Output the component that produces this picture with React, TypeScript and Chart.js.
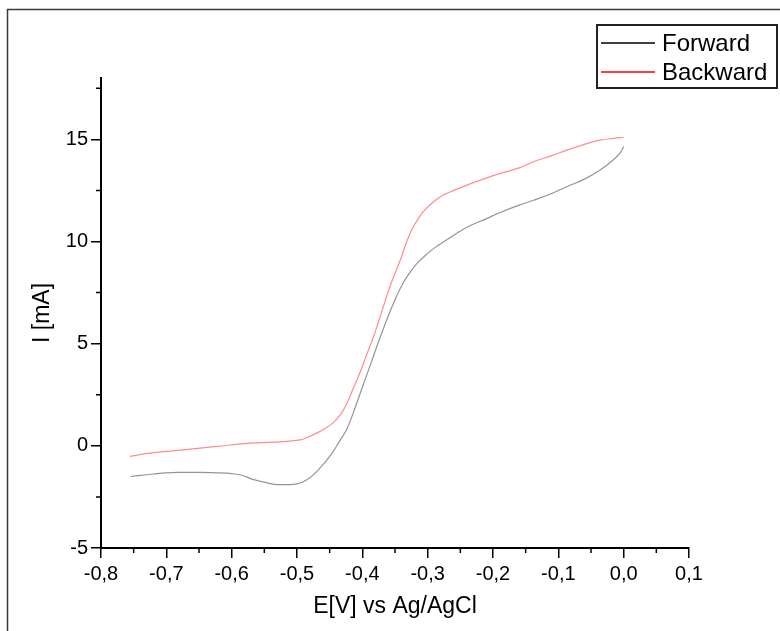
import React, { useEffect, useRef } from "react";
import { Chart, registerables } from "chart.js";

Chart.register(...registerables);

const forwardE = [-0.755, -0.74, -0.72, -0.70, -0.68, -0.65, -0.62, -0.60, -0.583, -0.569, -0.55, -0.537, -0.52, -0.506, -0.495, -0.485, -0.475, -0.465, -0.455, -0.445, -0.435, -0.424, -0.414, -0.404, -0.394, -0.384, -0.374, -0.364, -0.354, -0.342, -0.330, -0.317, -0.304, -0.291, -0.27, -0.24, -0.21, -0.189, -0.16, -0.138, -0.11, -0.087, -0.06, -0.036, -0.016, -0.005, 0.0];
const forwardI = [-1.50, -1.45, -1.38, -1.32, -1.30, -1.30, -1.32, -1.36, -1.45, -1.63, -1.78, -1.87, -1.90, -1.89, -1.82, -1.66, -1.42, -1.09, -0.72, -0.30, 0.22, 0.80, 1.60, 2.50, 3.40, 4.30, 5.20, 6.05, 6.85, 7.70, 8.35, 8.90, 9.30, 9.65, 10.10, 10.70, 11.12, 11.42, 11.78, 12.02, 12.35, 12.68, 13.05, 13.50, 13.99, 14.35, 14.65];

const backwardE = [0.0, -0.015, -0.036, -0.06, -0.087, -0.11, -0.138, -0.16, -0.189, -0.215, -0.24, -0.26, -0.276, -0.291, -0.307, -0.322, -0.332, -0.342, -0.353, -0.363, -0.373, -0.383, -0.394, -0.404, -0.414, -0.424, -0.433, -0.444, -0.457, -0.470, -0.483, -0.495, -0.521, -0.572, -0.623, -0.674, -0.725, -0.756];
const backwardI = [15.1, 15.05, 14.96, 14.75, 14.47, 14.2, 13.9, 13.6, 13.33, 13.05, 12.76, 12.5, 12.27, 11.94, 11.45, 10.72, 10.0, 9.08, 8.2, 7.29, 6.3, 5.33, 4.4, 3.55, 2.8, 2.05, 1.55, 1.15, 0.85, 0.62, 0.43, 0.29, 0.21, 0.13, -0.03, -0.20, -0.36, -0.52];

const xTicks = [-0.8, -0.7, -0.6, -0.5, -0.4, -0.3, -0.2, -0.1, 0.0, 0.1];
const xMinorTicks = [-0.75, -0.65, -0.55, -0.45, -0.35, -0.25, -0.15, -0.05, 0.05];
const yTicks = [-5, 0, 5, 10, 15];
const yMinorTicks = [-2.5, 2.5, 7.5, 12.5, 17.5];

const seriesLabels = ["Forward", "Backward"];
const legendColors = ["#000000", "#ff0000"];
const lineColors = ["rgba(0,0,0,0.42)", "rgba(255,0,0,0.45)"];

const FONT = '"Liberation Sans", Arial, sans-serif';

const minorTicksPlugin = {
  id: "minorTicks",
  afterDraw(chart: any) {
    const { ctx, chartArea, scales } = chart;
    ctx.save();
    ctx.strokeStyle = "#000";
    ctx.lineWidth = 1.5;
    ctx.beginPath();
    for (const v of xMinorTicks) {
      const px = scales.x.getPixelForValue(v);
      ctx.moveTo(px, chartArea.bottom);
      ctx.lineTo(px, chartArea.bottom + 5);
    }
    for (const v of yMinorTicks) {
      const py = scales.y.getPixelForValue(v);
      ctx.moveTo(chartArea.left, py);
      ctx.lineTo(chartArea.left - 5, py);
    }
    ctx.stroke();
    ctx.restore();
  },
};

const framePlugin = {
  id: "frame",
  afterDraw(chart: any) {
    const { ctx } = chart;
    ctx.save();
    ctx.strokeStyle = "#3a3a3a";
    ctx.lineWidth = 1.5;
    ctx.beginPath();
    ctx.moveTo(7.5, 631);
    ctx.lineTo(7.5, 9.5);
    ctx.lineTo(780, 9.5);
    ctx.stroke();
    ctx.restore();
  },
};

const legendPlugin = {
  id: "boxLegend",
  afterDraw(chart: any) {
    const { ctx } = chart;
    ctx.save();
    ctx.fillStyle = "#fff";
    ctx.fillRect(597, 25, 180, 63);
    ctx.strokeStyle = "#222";
    ctx.lineWidth = 2;
    ctx.strokeRect(597, 25, 180, 63);
    const rows = [43, 72];
    chart.data.datasets.forEach((ds: any, i: number) => {
      const y = rows[i];
      ctx.strokeStyle = legendColors[i];
      ctx.lineWidth = 1.5;
      ctx.beginPath();
      ctx.moveTo(601, y);
      ctx.lineTo(655, y);
      ctx.stroke();
      ctx.fillStyle = "#000";
      ctx.font = `24px ${FONT}`;
      ctx.textBaseline = "middle";
      ctx.textAlign = "left";
      ctx.fillText(ds.label, 662, y + 1);
    });
    ctx.restore();
  },
};

export default function App() {
  const canvasRef = useRef<HTMLCanvasElement | null>(null);

  useEffect(() => {
    if (!canvasRef.current) return;
    const fwd = forwardE.map((x, i) => ({ x, y: forwardI[i] }));
    const bwd = backwardE.map((x, i) => ({ x, y: backwardI[i] }));
    const chart = new Chart(canvasRef.current, {
      type: "line",
      data: {
        datasets: [
          {
            label: seriesLabels[0],
            data: fwd,
            borderColor: lineColors[0],
            borderWidth: 1.2,
            pointRadius: 0,
            tension: 0.4,
            fill: false,
          },
          {
            label: seriesLabels[1],
            data: bwd,
            borderColor: lineColors[1],
            borderWidth: 1.2,
            pointRadius: 0,
            tension: 0.4,
            fill: false,
          },
        ],
      },
      options: {
        responsive: false,
        animation: false,
        events: [],
        layout: { padding: { left: 0, top: 78, right: 91, bottom: 0 } },
        plugins: {
          legend: { display: false },
          tooltip: { enabled: false },
          title: { display: false },
        },
        scales: {
          x: {
            type: "linear",
            min: -0.8,
            max: 0.1,
            afterFit: (s: any) => {
              s.height = 83;
            },
            afterBuildTicks: (s: any) => {
              s.ticks = xTicks.map((v) => ({ value: v }));
            },
            grid: {
              drawOnChartArea: false,
              drawTicks: true,
              tickLength: 10,
              tickColor: "#000",
              lineWidth: 1.5,
            },
            border: { display: true, color: "#000", width: 2 },
            ticks: {
              color: "#000",
              font: { family: FONT, size: 20 },
              padding: 4,
              maxRotation: 0,
              autoSkip: false,
              callback: (v: any) => Number(v).toFixed(1).replace(".", ","),
            },
            title: {
              display: true,
              text: "E[V] vs Ag/AgCl",
              color: "#000",
              font: { family: FONT, size: 23 },
              padding: { top: 0, bottom: 11 },
            },
          },
          y: {
            type: "linear",
            min: -5,
            max: 18,
            afterFit: (s: any) => {
              s.width = 101;
            },
            afterBuildTicks: (s: any) => {
              s.ticks = yTicks.map((v) => ({ value: v }));
            },
            grid: {
              drawOnChartArea: false,
              drawTicks: true,
              tickLength: 10,
              tickColor: "#000",
              lineWidth: 1.5,
            },
            border: { display: true, color: "#000", width: 2 },
            ticks: {
              color: "#000",
              font: { family: FONT, size: 20 },
              padding: 3,
              autoSkip: false,
              callback: (v: any) => String(v),
            },
            title: {
              display: true,
              text: "I [mA]",
              color: "#000",
              font: { family: FONT, size: 23 },
              padding: { top: 29, bottom: 0 },
            },
          },
        },
      },
      plugins: [minorTicksPlugin, framePlugin, legendPlugin],
    });
    return () => chart.destroy();
  }, []);

  return (
    <div
      style={{
        position: "fixed",
        left: 0,
        top: 0,
        width: 780,
        height: 631,
        background: "#fff",
      }}
    >
      <canvas ref={canvasRef} width={780} height={631} style={{ display: "block" }} />
    </div>
  );
}
